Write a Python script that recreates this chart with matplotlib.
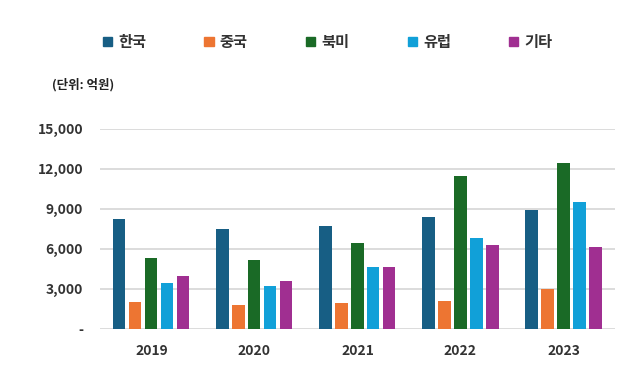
import matplotlib.pyplot as plt
import numpy as np
from matplotlib.patches import Patch
from matplotlib.ticker import FuncFormatter

plt.rcParams["font.family"] = ["Noto Sans CJK KR", "DejaVu Sans"]

# data (단위: 억원)
years = ["2019", "2020", "2021", "2022", "2023"]
regions = ["한국", "중국", "북미", "유럽", "기타"]
korea = [8250, 7475, 7725, 8375, 8900]
china = [2050, 1825, 1950, 2075, 2975]
namerica = [5300, 5175, 6450, 11475, 12475]
europe = [3475, 3250, 4625, 6825, 9525]
others = [4000, 3625, 4625, 6300, 6175]
colors = ["#175e84", "#ed7532", "#1a6a26", "#11a0d8", "#a02f91"]

series = [korea, china, namerica, europe, others]

fig = plt.figure(figsize=(6.4, 3.92), dpi=100)
ax = fig.add_axes([0.156, 0.161, 0.805, 0.510])

x = np.arange(len(years))
step = 0.155
width = 0.118
for i, (vals, c) in enumerate(zip(series, colors)):
    ax.bar(x + (i - 2) * step, vals, width=width, color=c, zorder=3)

ax.set_xlim(-0.5, 4.5)
ax.set_ylim(0, 15000)
ax.set_yticks(range(0, 15001, 3000))
ax.yaxis.set_major_formatter(FuncFormatter(lambda v, p: "-" if v == 0 else f"{int(v):,}"))
ax.set_xticks(x)
ax.set_xticklabels(years)
ax.grid(axis="y", color="#d9d9d9", lw=1.3, zorder=0)
for s in ax.spines.values():
    s.set_visible(False)
ax.tick_params(length=0, labelsize=10, labelcolor="#333333")
ax.tick_params(axis="y", pad=12)
ax.tick_params(axis="x", pad=11)
for lab in ax.get_xticklabels() + ax.get_yticklabels():
    lab.set_fontweight("bold")

handles = [Patch(color=c, label=r) for r, c in zip(regions, colors)]
fig.legend(handles=handles, loc="center left", bbox_to_anchor=(0.139, 0.893),
           ncol=5, frameon=False, handlelength=0.6, handleheight=0.6,
           handletextpad=0.4, columnspacing=3.82,
           prop={"size": 11, "weight": "bold"}, labelcolor="#333333")

fig.text(0.081, 0.783, "(단위: 억원)", fontsize=9, fontweight="bold",
         color="#222222", va="center")

fig.savefig("out.png", dpi=100, facecolor="white")
